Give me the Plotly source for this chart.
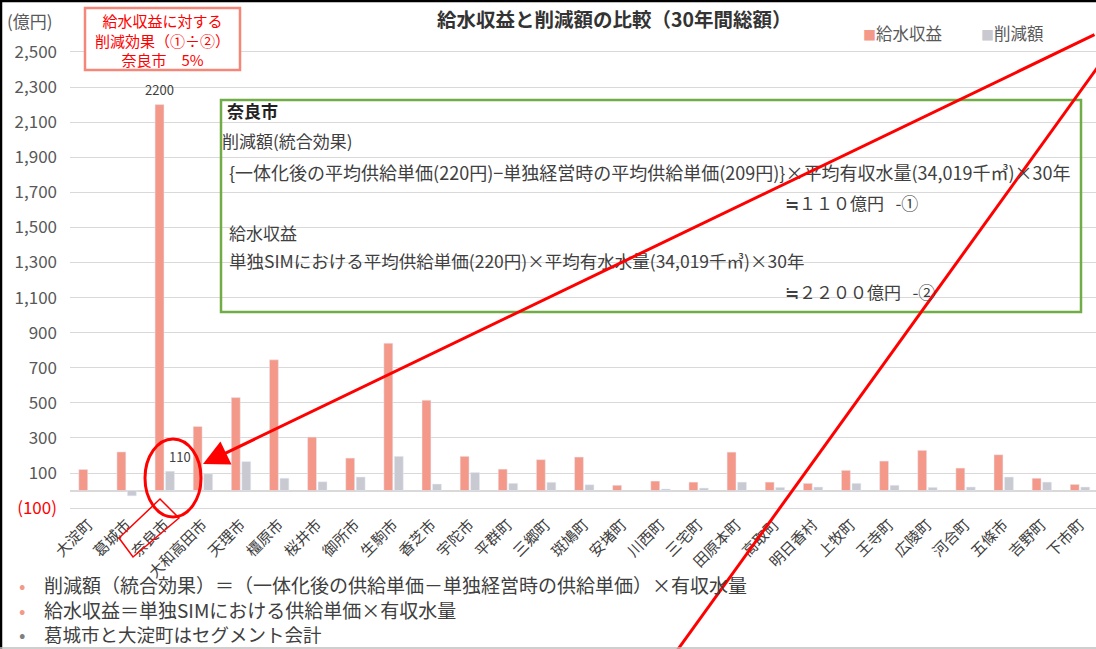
import plotly.graph_objects as go

# ---------------- data ----------------
categories = ["大淀町", "葛城市", "奈良市", "大和高田市", "天理市", "橿原市", "桜井市", "御所市", "生駒市",
              "香芝市", "宇陀市", "平群町", "三郷町", "斑鳩町", "安堵町", "川西町", "三宅町", "田原本町",
              "高取町", "明日香村", "上牧町", "王寺町", "広陵町", "河合町", "五條市", "吉野町", "下市町"]
kyusui = [120, 220, 2200, 365, 530, 745, 305, 185, 840, 515, 195, 122, 176, 191, 30, 54, 48, 219,
          48, 41, 115, 168, 229, 128, 204, 70, 35]
sakugen = [None, -30, 110, 95, 165, 70, 50, 77, 195, 37, 103, 41, 47, 33, None, 9, 14, 48,
           18, 20, 41, 30, 18, 20, 77, 48, 20]
series_names = ["給水収益", "削減額"]
ytick_vals = [-100, 100, 300, 500, 700, 900, 1100, 1300, 1500, 1700, 1900, 2100, 2300, 2500]
ytick_text = ["<span style='color:#FF0000'>(100)</span>", "100", "300", "500", "700", "900", "1,100",
              "1,300", "1,500", "1,700", "1,900", "2,100", "2,300", "2,500"]

W, H = 1096, 649
L, R, T, B = 70, 0, 34, 137
FONT = "Noto Sans CJK JP"
ORANGE = "#F4998A"
GREY = "#C9C9D1"
TXT = "#404040"
NB = "\u00a0"


def px(x):
    return (x - L) / (W - L - R)


def py(y):
    return (H - B - y) / (H - T - B)


fig = go.Figure()
fig.add_trace(go.Bar(name=series_names[0], x=categories, y=kyusui, marker_color=ORANGE, showlegend=False))
fig.add_trace(go.Bar(name=series_names[1], x=categories, y=sakugen, marker_color=GREY, showlegend=False))

annotations = []


def note(x, y, text, size, color, xanchor="left", bold=False, align="left"):
    annotations.append(dict(x=px(x), y=py(y), xref="paper", yref="paper", showarrow=False,
                            xanchor=xanchor, yanchor="middle", align=align,
                            text=("<b>%s</b>" % text) if bold else text,
                            font=dict(family=FONT, size=size, color=color)))


# data labels for 奈良市
annotations.append(dict(x=categories[2], y=kyusui[2], xref="x", yref="y", text=str(kyusui[2]),
                        showarrow=False, xanchor="center", yanchor="bottom", xshift=-5, yshift=4,
                        font=dict(family=FONT, size=13, color=TXT)))
annotations.append(dict(x=categories[2], y=sakugen[2], xref="x", yref="y", text=str(sakugen[2]),
                        showarrow=False, xanchor="center", yanchor="bottom", xshift=15, yshift=3,
                        font=dict(family=FONT, size=13, color=TXT)))

# title and unit
note(614, 19, "給水収益と削減額の比較（30年間総額）", 19.5, "#333333", xanchor="center", bold=True)
note(5, 20, "(億円)", 17, "#595959")

# manual legend
note(861, 33, "<span style='color:%s;font-size:13px'>■</span>%s" % (ORANGE, series_names[0]), 16.5, "#595959")
note(979, 33, "<span style='color:%s;font-size:13px'>■</span>%s" % (GREY, series_names[1]), 16.5, "#595959")

# red box text
note(162, 40, "給水収益に対する<br>削減効果（①÷②）<br>奈良市　5%", 15, "#FF0000", xanchor="center", align="center")

# green box texts
note(225, 111, "奈良市", 17, "#222222", bold=True)
note(220, 141, "削減額(統合効果)", 17, TXT)
note(227, 172, "{一体化後の平均供給単価(220円)−単独経営時の平均供給単価(209円)}×平均有収水量(34,019千㎥)×30年", 18, TXT)
note(783, 202, "≒１１０億円" + NB * 3 + "-①", 17, TXT)
note(227, 232, "給水収益", 17, TXT)
note(227, 260, "単独SIMにおける平均供給単価(220円)×平均有水水量(34,019千㎥)×30年", 17.5, TXT)
note(783, 291, "≒２２００億円" + NB * 3 + "-②", 17, TXT)

# bottom notes (one block, so lines share a single line height)
note_lines = ["削減額（統合効果）＝（一体化後の供給単価－単独経営時の供給単価）×有収水量",
              "給水収益＝単独SIMにおける供給単価×有収水量",
              "<span style='font-size:18.5px'>葛城市と大淀町はセグメント会計</span>"]
bullet_colors = [ORANGE, ORANGE, "#7F7F7F"]
note(42, 609, "<br>".join(note_lines), 19, TXT)
note(17, 609, "<br>".join("<span style='color:%s'>•</span>" % c for c in bullet_colors), 19, TXT)

# red arrow
annotations.append(dict(x=px(203), y=py(464), xref="paper", yref="paper", text="", showarrow=True,
                        ax=1100 - 203, ay=34 - 464, axref="pixel", ayref="pixel",
                        arrowcolor="#FF0000", arrowwidth=3, arrowhead=2, arrowsize=1.7))

shapes = []
# red info box
shapes.append(dict(type="rect", xref="paper", yref="paper", x0=px(85), x1=px(240), y0=py(8), y1=py(70),
                   line=dict(color="#F4877A", width=2.5), fillcolor="white", layer="above"))
# green box
shapes.append(dict(type="rect", xref="paper", yref="paper", x0=px(221), x1=px(1081), y0=py(100), y1=py(312),
                   line=dict(color="#70AD47", width=2.5), fillcolor="rgba(0,0,0,0)", layer="above"))
# ellipse
shapes.append(dict(type="circle", xref="paper", yref="paper", x0=px(145), x1=px(201), y0=py(439), y1=py(517),
                   line=dict(color="#FF0000", width=3), layer="above"))
# rotated box around 奈良市 label
path = "M %f,%f L %f,%f L %f,%f L %f,%f Z" % (px(119), py(538), px(160), py(499), px(179), py(518), px(133), py(557))
shapes.append(dict(type="path", xref="paper", yref="paper", path=path,
                   line=dict(color="#FF0000", width=1.5), layer="above"))
# second red line
shapes.append(dict(type="line", xref="paper", yref="paper", x0=px(1100), y0=py(64), x1=px(676), y1=py(652),
                   line=dict(color="#FF0000", width=3), layer="above"))
# frame lines
shapes.append(dict(type="line", xref="paper", yref="paper", x0=px(1), y0=py(0), x1=px(1), y1=py(649),
                   line=dict(color="#000000", width=2.5), layer="above"))
shapes.append(dict(type="line", xref="paper", yref="paper", x0=px(0), y0=py(1), x1=px(1096), y1=py(1),
                   line=dict(color="#000000", width=2.5), layer="above"))
shapes.append(dict(type="line", xref="paper", yref="paper", x0=px(0), y0=py(648), x1=px(1096), y1=py(648),
                   line=dict(color="#BFBFBF", width=1.5), layer="above"))

fig.update_layout(
    width=W, height=H,
    margin=dict(l=L, r=R, t=T, b=B, autoexpand=False),
    paper_bgcolor="white", plot_bgcolor="white",
    barmode="group", bargap=0.45, bargroupgap=0.15,
    font=dict(family=FONT, color=TXT),
    showlegend=False,
    annotations=annotations,
    shapes=shapes,
)
fig.update_xaxes(range=[-0.485, 26.42], tickangle=-45, showgrid=False, showline=False, ticks="",
                 tickfont=dict(family=FONT, size=15, color=TXT))
fig.update_yaxes(range=[-122.3, 2602.5], tickvals=ytick_vals, ticktext=ytick_text,
                 showgrid=True, gridcolor="#D9D9D9", gridwidth=1,
                 zeroline=True, zerolinecolor="#D9D9D9", zerolinewidth=1.5,
                 ticks="", ticklabelstandoff=12,
                 tickfont=dict(family=FONT, size=17, color="#595959"))

fig.write_html("out.html", config={"displayModeBar": False},
               post_script="document.body.style.margin='0';document.body.style.overflow='hidden';")
